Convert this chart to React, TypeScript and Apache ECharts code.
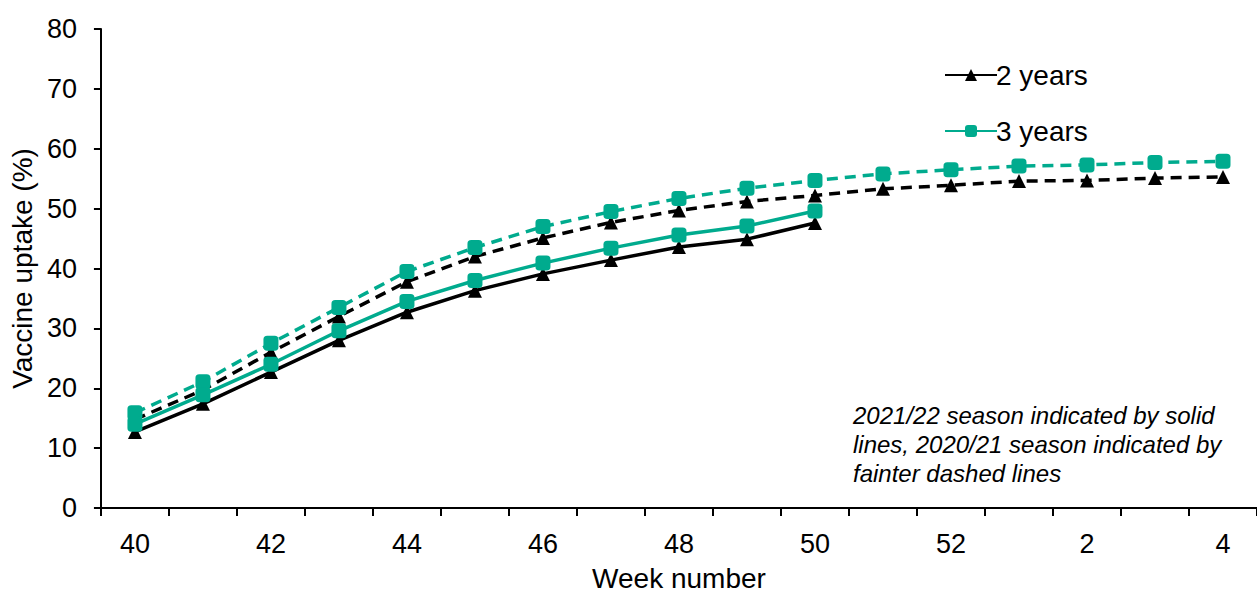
import React, { useEffect, useRef } from "react";
import * as echarts from "echarts";

const weeks = ["40","41","42","43","44","45","46","47","48","49","50","51","52","1","2","3","4"];
const solid2 = [12.7, 17.4, 22.7, 28.0, 32.7, 36.3, 39.1, 41.4, 43.6, 44.9, 47.6];
const solid3 = [14.0, 18.9, 24.0, 29.6, 34.5, 38.0, 40.9, 43.4, 45.6, 47.1, 49.6];
const dashed2 = [14.8, 19.7, 26.0, 32.0, 37.8, 42.0, 45.1, 47.7, 49.7, 51.2, 52.2, 53.3, 53.9, 54.6, 54.7, 55.1, 55.3];
const dashed3 = [15.9, 21.1, 27.5, 33.5, 39.5, 43.5, 47.0, 49.5, 51.7, 53.4, 54.7, 55.8, 56.5, 57.1, 57.3, 57.7, 57.9];
const yTicks = { min: 0, max: 80, interval: 10 };
const note = "2021/22 season indicated by solid\nlines, 2020/21 season indicated by\nfainter dashed lines";

const BLACK = "#000000";
const TEAL = "#00AB8E";
const FONT = "Liberation Sans, Arial, sans-serif";

export default function App() {
  const ref = useRef<HTMLDivElement>(null);
  useEffect(() => {
    if (!ref.current) return;
    const chart = echarts.init(ref.current, undefined, { renderer: "svg" });
    const mk = (name: string, data: number[], color: string, symbol: string, size: number, dashed: boolean) => ({
      name,
      type: "line",
      data,
      symbol,
      symbolSize: size,
      showAllSymbol: true,
      lineStyle: { color, width: 3.5, type: dashed ? [11, 7] : "solid" },
      itemStyle: { color, borderWidth: 0 },
      z: dashed ? 2 : 3,
    });
    chart.setOption({
      animation: false,
      textStyle: { fontFamily: FONT },
      grid: { left: 97, right: -5, top: 29, bottom: 85, containLabel: false },
      legend: {
        data: ["2 years", "3 years"],
        orient: "vertical",
        left: 939,
        top: 56,
        itemGap: 28,
        itemWidth: 52,
        itemHeight: 15,
        textStyle: { fontSize: 28, color: "#000", fontFamily: FONT, padding: [0, 0, 0, -6] },
      },
      xAxis: {
        type: "category",
        data: weeks,
        boundaryGap: true,
        name: "Week number",
        nameLocation: "middle",
        nameGap: 56,
        nameTextStyle: { fontSize: 28, color: "#000", fontFamily: FONT },
        axisLine: { lineStyle: { color: "#000", width: 2 } },
        axisTick: { show: true, interval: 0, length: 8, lineStyle: { color: "#000", width: 2 } },
        axisLabel: { interval: 1, fontSize: 27, color: "#000", margin: 22, fontFamily: FONT },
        splitLine: { show: false },
      },
      yAxis: {
        type: "value",
        min: yTicks.min,
        max: yTicks.max,
        interval: yTicks.interval,
        name: "Vaccine uptake (%)",
        nameLocation: "middle",
        nameGap: 60,
        nameTextStyle: { fontSize: 28, color: "#000", fontFamily: FONT },
        axisLine: { show: true, lineStyle: { color: "#000", width: 2 } },
        axisTick: { show: true, length: 7, lineStyle: { color: "#000", width: 2 } },
        axisLabel: { fontSize: 27, color: "#000", margin: 24, fontFamily: FONT },
        splitLine: { show: false },
      },
      series: [
        mk("2 years (2020/21)", dashed2, BLACK, "triangle", 14, true),
        mk("3 years (2020/21)", dashed3, TEAL, "roundRect", 15, true),
        mk("2 years", solid2, BLACK, "triangle", 14, false),
        mk("3 years", solid3, TEAL, "roundRect", 15, false),
      ],
      graphic: [
        {
          type: "text",
          left: 853,
          top: 401,
          style: {
            text: note,
            font: `italic 24px ${FONT}`,
            fill: "#000",
            lineHeight: 29,
          },
        },
      ],
    });
    return () => chart.dispose();
  }, []);
  return <div ref={ref} style={{ position: "absolute", left: 0, top: 0, width: 1257, height: 597, background: "#fff" }} />;
}
